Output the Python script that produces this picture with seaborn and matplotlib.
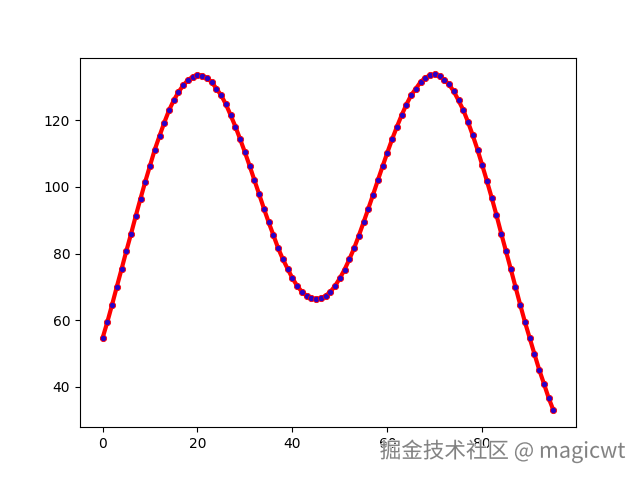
import matplotlib
matplotlib.use("Agg")
import matplotlib.pyplot as plt
import matplotlib.patheffects as pe
import seaborn as sns

# DATA
# x positions 0..95, one point per step
x_values = list(range(96))

# y values
y_values = [
    54.6, 59.4, 64.6, 70.0, 75.3, 80.7, 85.9, 91.3, 96.5, 101.6,
    106.4, 111.2, 115.3, 119.3, 123.0, 126.0, 128.5, 130.5, 132.1, 133.1,
    133.7, 133.4, 132.7, 131.5, 129.5, 127.5, 124.8, 121.5, 118.1, 114.3,
    110.4, 106.3, 102.0, 97.8, 93.5, 89.4, 85.5, 81.6, 78.3, 75.4,
    72.6, 70.3, 68.5, 67.3, 66.6, 66.3, 66.6, 67.3, 68.5, 70.3,
    72.6, 75.2, 78.3, 81.6, 85.4, 89.4, 93.5, 97.7, 102.0, 106.2,
    110.3, 114.3, 118.0, 121.5, 124.7, 127.5, 129.5, 131.5, 132.8, 133.5,
    133.8, 133.3, 132.2, 130.8, 128.7, 126.0, 123.1, 119.5, 115.5, 111.2,
    106.5, 101.7, 96.7, 91.5, 86.0, 80.7, 75.4, 70.0, 64.6, 59.4,
    54.6, 49.8, 45.1, 40.9, 36.6, 32.9,
]

watermark = "掘金技术社区 @ magicwt"

# DRAWING
fig, ax = plt.subplots(figsize=(6.4, 4.8), dpi=100)

# thick red line with small blue dots on every point
sns.lineplot(x=x_values, y=y_values, ax=ax, color="red", linewidth=3,
             marker="o", markersize=4.5, markerfacecolor="#2a00c8",
             markeredgecolor="red", markeredgewidth=0.6)

ax.set_xticks([0, 20, 40, 60, 80])
ax.set_yticks([40, 60, 80, 100, 120])

# site watermark in the bottom right corner (it sits over the tick labels, as in the original)
fig.text(0.977, 0.06, watermark, ha="right", va="center", fontsize=15.5,
         color="#7a7a7a", alpha=0.9, family=["Noto Sans CJK SC", "DejaVu Sans"],
         path_effects=[pe.withStroke(linewidth=1, foreground="white")])

fig.savefig("out.png")
